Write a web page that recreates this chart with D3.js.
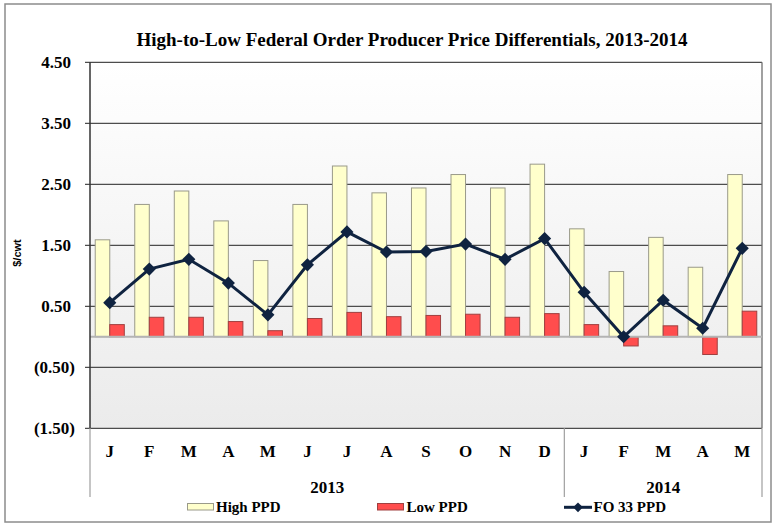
<!DOCTYPE html>
<html>
<head>
<meta charset="utf-8">
<script src="https://cdn.jsdelivr.net/npm/d3@7"></script>
<style>
    body { margin: 0; background: #fff; }
    svg { display: block; }
    text { font-family: "Liberation Serif", "Times New Roman", serif; font-weight: bold; fill: #000; }
</style>
</head>
<body>
<div id="chart"></div>
<script>
// Chart data
var months = ["J", "F", "M", "A", "M", "J", "J", "A", "S", "O", "N", "D", "J", "F", "M", "A", "M"];
var years = [{ label: "2013", start: 0, end: 12 }, { label: "2014", start: 12, end: 17 }];
var highPPD = [1.59, 2.17, 2.39, 1.90, 1.25, 2.17, 2.80, 2.36, 2.44, 2.66, 2.44, 2.83, 1.77, 1.07, 1.63, 1.14, 2.66];
var lowPPD = [0.20, 0.32, 0.32, 0.25, 0.10, 0.30, 0.40, 0.33, 0.35, 0.37, 0.32, 0.38, 0.20, -0.15, 0.18, -0.29, 0.42];
var fo33PPD = [0.56, 1.11, 1.27, 0.88, 0.36, 1.18, 1.72, 1.39, 1.40, 1.52, 1.27, 1.61, 0.73, 0.00, 0.60, 0.14, 1.45];
var yTicks = [-1.5, -0.5, 0.5, 1.5, 2.5, 3.5, 4.5];

var width = 772, height = 523;
var plot = { left: 90, right: 762, top: 62.3, bottom: 428.3 };

var svg = d3.select("#chart").append("svg")
    .attr("width", width)
    .attr("height", height);

// outer frame
svg.append("rect")
    .attr("x", 5).attr("y", 4)
    .attr("width", 766).attr("height", 518)
    .attr("fill", "none")
    .attr("stroke", "#8c8c8c")
    .attr("stroke-width", 1.5);

// background gradient of the plot area
var grad = svg.append("defs").append("linearGradient")
    .attr("id", "bg").attr("x1", 0).attr("y1", 0).attr("x2", 0).attr("y2", 1);
grad.append("stop").attr("offset", "0%").attr("stop-color", "#ffffff");
grad.append("stop").attr("offset", "100%").attr("stop-color", "#ebebeb");

var x = d3.scaleBand()
    .domain(d3.range(months.length))
    .range([plot.left, plot.right]);

var xSub = d3.scaleBand()
    .domain(["high", "low"])
    .range([0, x.bandwidth()])
    .paddingOuter(0.36);

var y = d3.scaleLinear()
    .domain([-1.5, 4.5])
    .range([plot.bottom, plot.top]);

svg.append("rect")
    .attr("x", plot.left).attr("y", plot.top)
    .attr("width", plot.right - plot.left).attr("height", plot.bottom - plot.top)
    .attr("fill", "url(#bg)");

// gridlines
svg.append("g").selectAll("line")
    .data(yTicks)
    .enter().append("line")
    .attr("x1", plot.left - 5).attr("x2", plot.right)
    .attr("y1", function (d) { return y(d); })
    .attr("y2", function (d) { return y(d); })
    .attr("stroke", "#4d4d4d")
    .attr("stroke-width", 1.3);

// right border of plot
svg.append("line")
    .attr("x1", plot.right).attr("x2", plot.right)
    .attr("y1", plot.top).attr("y2", plot.bottom)
    .attr("stroke", "#6e6e6e").attr("stroke-width", 1.3);

// y tick labels, negatives in parentheses
svg.append("g").selectAll("text")
    .data(yTicks)
    .enter().append("text")
    .attr("x", function (d) { return d < 0 ? 75 : 71; })
    .attr("y", function (d) { return y(d); })
    .attr("dy", "0.35em")
    .attr("text-anchor", "end")
    .attr("font-size", "17px")
    .text(function (d) {
        var s = d3.format(".2f")(Math.abs(d));
        return d < 0 ? "(" + s + ")" : s;
    });

// y axis title
svg.append("text")
    .attr("transform", "translate(21,253) rotate(-90)")
    .attr("text-anchor", "middle")
    .style("font-family", "'Liberation Sans', Arial, sans-serif")
    .attr("font-size", "11px")
    .text("$/cwt");

// High PPD bars
svg.append("g").selectAll("rect")
    .data(highPPD)
    .enter().append("rect")
    .attr("x", function (d, i) { return x(i) + xSub("high"); })
    .attr("y", function (d) { return y(Math.max(0, d)); })
    .attr("width", xSub.bandwidth())
    .attr("height", function (d) { return Math.abs(y(d) - y(0)); })
    .attr("fill", "#ffffcc")
    .attr("stroke", "#9a9a8a")
    .attr("stroke-width", 1);

// Low PPD bars
svg.append("g").selectAll("rect")
    .data(lowPPD)
    .enter().append("rect")
    .attr("x", function (d, i) { return x(i) + xSub("low"); })
    .attr("y", function (d) { return y(Math.max(0, d)); })
    .attr("width", xSub.bandwidth())
    .attr("height", function (d) { return Math.abs(y(d) - y(0)); })
    .attr("fill", "#ff4d4d")
    .attr("stroke", "#a04040")
    .attr("stroke-width", 1);

// zero line
svg.append("line")
    .attr("x1", plot.left).attr("x2", plot.right)
    .attr("y1", y(0)).attr("y2", y(0))
    .attr("stroke", "#b4b4b4")
    .attr("stroke-width", 2);

// left axis line
svg.append("line")
    .attr("x1", plot.left).attr("x2", plot.left)
    .attr("y1", plot.top).attr("y2", plot.bottom)
    .attr("stroke", "#333").attr("stroke-width", 1.5);

// FO 33 PPD line with diamond markers
var line = d3.line()
    .x(function (d, i) { return x(i) + x.bandwidth() / 2; })
    .y(function (d) { return y(d); });

svg.append("path")
    .datum(fo33PPD)
    .attr("d", line)
    .attr("fill", "none")
    .attr("stroke", "#0f2340")
    .attr("stroke-width", 3);

svg.append("g").selectAll("path")
    .data(fo33PPD)
    .enter().append("path")
    .attr("d", d3.symbol().type(d3.symbolDiamond2).size(110))
    .attr("transform", function (d, i) {
        return "translate(" + (x(i) + x.bandwidth() / 2) + "," + y(d) + ")";
    })
    .attr("fill", "#0f2340");

// category axis: month letters, year groups, separators
svg.append("g").selectAll("text")
    .data(months)
    .enter().append("text")
    .attr("x", function (d, i) { return x(i) + x.bandwidth() / 2; })
    .attr("y", 457)
    .attr("text-anchor", "middle")
    .attr("font-size", "17px")
    .text(function (d) { return d; });

svg.append("g").selectAll("text")
    .data(years)
    .enter().append("text")
    .attr("x", function (d) {
        var x1 = d.end < months.length ? x(d.end) : plot.right;
        return (x(d.start) + x1) / 2;
    })
    .attr("y", 493)
    .attr("text-anchor", "middle")
    .attr("font-size", "17px")
    .text(function (d) { return d.label; });

var seps = [plot.left, x(12), plot.right];
svg.append("g").selectAll("line")
    .data(seps)
    .enter().append("line")
    .attr("x1", function (d) { return d; }).attr("x2", function (d) { return d; })
    .attr("y1", plot.bottom).attr("y2", 497)
    .attr("stroke", "#a6a6a6")
    .attr("stroke-width", 1.3);

// title
svg.append("text")
    .attr("x", 412)
    .attr("y", 46)
    .attr("text-anchor", "middle")
    .attr("font-size", "19px")
    .text("High-to-Low Federal Order Producer Price Differentials, 2013-2014");

// legend
var legend = svg.append("g");

legend.append("rect")
    .attr("x", 187.5).attr("y", 503.5).attr("width", 26).attr("height", 6.5)
    .attr("fill", "#ffffcc").attr("stroke", "#9a9a8a");
legend.append("text")
    .attr("x", 216).attr("y", 511.5).attr("font-size", "15px").text("High PPD");

legend.append("rect")
    .attr("x", 377.5).attr("y", 503.5).attr("width", 26).attr("height", 6.5)
    .attr("fill", "#ff4d4d").attr("stroke", "#a04040");
legend.append("text")
    .attr("x", 406.5).attr("y", 511.5).attr("font-size", "15px").text("Low PPD");

legend.append("line")
    .attr("x1", 564).attr("x2", 592).attr("y1", 507.3).attr("y2", 507.3)
    .attr("stroke", "#0f2340").attr("stroke-width", 3);
legend.append("path")
    .attr("d", d3.symbol().type(d3.symbolDiamond2).size(60))
    .attr("transform", "translate(578,507.3)")
    .attr("fill", "#0f2340");
legend.append("text")
    .attr("x", 593.5).attr("y", 511.5).attr("font-size", "15px").text("FO 33 PPD");
</script>
</body>
</html>
